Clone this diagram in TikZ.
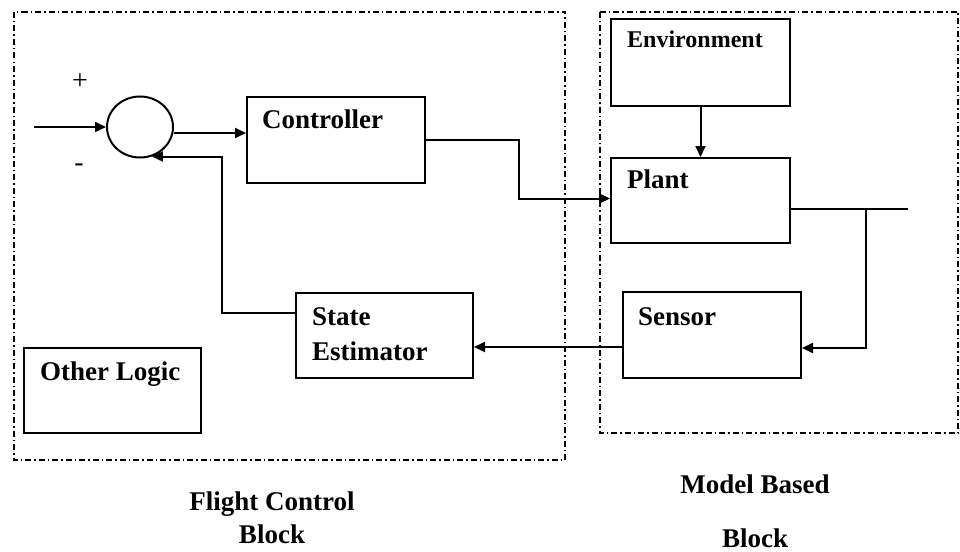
\documentclass[tikz,border=0pt]{standalone}
\usepackage{fontspec}
\setmainfont{Liberation Serif}
\usetikzlibrary{arrows.meta,shapes.geometric}
\begin{document}
\begin{tikzpicture}[x=1pt,y=-1pt,
  blk/.style={draw, line width=2pt, rectangle, inner sep=0pt},
  grp/.style={draw, line width=1.6pt, dash pattern=on 6pt off 3pt on 1.5pt off 3pt},
  lbl/.style={font=\fontsize{27}{33}\selectfont\bfseries, anchor=base west, inner sep=0pt},
  captxt/.style={font=\fontsize{27}{33}\selectfont\bfseries, anchor=base, inner sep=0pt},
  sgn/.style={font=\fontsize{28}{32}\selectfont, inner sep=0pt},
  wire/.style={line width=2pt},
  arr/.style={wire, -{Triangle[length=11pt,width=10pt]}}
]
\useasboundingbox (0,0) rectangle (960,551);
% group frames
\draw[grp] (14,12) rectangle (565,460);
\draw[grp] (600,12) rectangle (958,433);
% blocks
\node[blk, ellipse, minimum width=66pt, minimum height=61pt] (sum) at (140,127) {};
\node[blk, minimum width=178pt, minimum height=86pt] (ctrl) at (336,140) {};
\node[blk, minimum width=179pt, minimum height=87pt] (env) at (700.5,62.5) {};
\node[blk, minimum width=179pt, minimum height=85pt] (plant) at (700.5,200.5) {};
\node[blk, minimum width=178pt, minimum height=86pt] (sens) at (712,335) {};
\node[blk, minimum width=177pt, minimum height=85pt] (est) at (384.5,335.5) {};
\node[blk, minimum width=177pt, minimum height=85pt] (oth) at (112.5,390.5) {};
% labels
\node[lbl] (tctrl) at (262,128) {Controller};
\node[lbl, font=\fontsize{24}{28}\selectfont\bfseries] (tenv) at (627,48) {Environment};
\node[lbl] (tplant) at (627,188) {Plant};
\node[lbl] (tsens) at (638,325) {Sensor};
\node[lbl] (test1) at (312,325) {State};
\node[lbl] (test2) at (312,360) {Estimator};
\node[lbl] (toth) at (40,380) {Other Logic};
\node[sgn] (plus) at (80,82) {+};
\node[sgn] (minus) at (79,168) {-};
\node[captxt] (fc1) at (272,510) {Flight Control};
\node[captxt] (fc2) at (272,543) {Block};
\node[captxt] (mb1) at (755,493) {Model Based};
\node[captxt] (mb2) at (755,547) {Block};
% connectors
\coordinate (in) at (34,127);
\draw[arr] (in) -- (sum.west);
\draw[arr] ([yshift=-6pt]sum.east) -- ([yshift=-6pt]sum.east -| ctrl.west);
\draw[arr] (ctrl.east) -- ++(93,0) |- ([yshift=2pt]plant.west);
\draw[arr] (env.south) -- (plant.north);
\coordinate (out) at (908,209);
\coordinate (br) at (866,209);
\draw[wire] (plant.east |- out) -- (out);
\draw[arr] (br) |- ([yshift=-13pt]sens.east);
\draw[arr] ([yshift=-12pt]sens.west) -- ([yshift=-12pt]sens.west -| est.east);
\draw[arr] ([yshift=23pt]est.west) -- ++(-73,0) |- (sum.-68);
\end{tikzpicture}
\end{document}
